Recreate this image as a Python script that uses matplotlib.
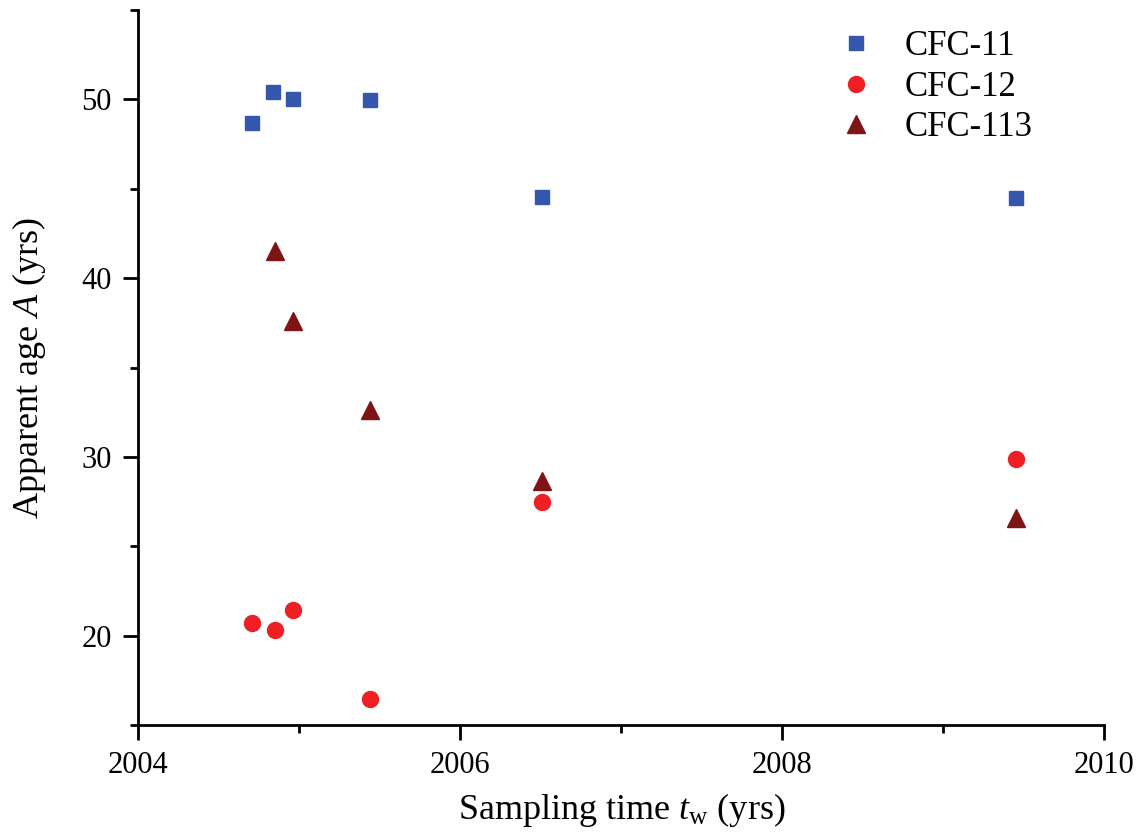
import matplotlib
matplotlib.use("Agg")
import matplotlib.pyplot as plt
from matplotlib.ticker import MultipleLocator

plt.rcParams["font.family"] = ["Liberation Serif", "DejaVu Serif"]
plt.rcParams["mathtext.fontset"] = "custom"
plt.rcParams["mathtext.rm"] = "Liberation Serif"
plt.rcParams["mathtext.it"] = "Liberation Serif:italic"

# Sampling times (years) and apparent ages (years) per tracer
t_cfc11 = [2004.71, 2004.84, 2004.96, 2005.44, 2006.51, 2009.45]
age_cfc11 = [48.7, 50.4, 50.0, 49.95, 44.55, 44.5]

t_cfc12 = [2004.71, 2004.85, 2004.96, 2005.44, 2006.51, 2009.45]
age_cfc12 = [20.7, 20.3, 21.45, 16.45, 27.5, 29.9]

t_cfc113 = [2004.85, 2004.96, 2005.44, 2006.51, 2009.45]
age_cfc113 = [41.5, 37.6, 32.6, 28.65, 26.6]

labels = ["CFC-11", "CFC-12", "CFC-113"]
colors = ["#3457ad", "#ee2024", "#7f1416"]

fig = plt.figure(figsize=(11.41, 8.40), dpi=100)
ax = fig.add_axes([0.121, 0.137, 0.847, 0.851])

ax.plot(t_cfc11, age_cfc11, ls="none", marker="s", ms=10, color=colors[0], label=labels[0])
ax.plot(t_cfc12, age_cfc12, ls="none", marker="o", ms=11.5, color=colors[1], label=labels[1])
ax.plot(t_cfc113, age_cfc113, ls="none", marker="^", ms=12.5, color=colors[2], label=labels[2])

ax.set_xlim(2004, 2010)
ax.set_ylim(15, 55)
ax.xaxis.set_major_locator(MultipleLocator(2))
ax.xaxis.set_minor_locator(MultipleLocator(1))
ax.yaxis.set_major_locator(MultipleLocator(10))
ax.yaxis.set_minor_locator(MultipleLocator(5))

for side in ("top", "right"):
    ax.spines[side].set_visible(False)
for side in ("left", "bottom"):
    ax.spines[side].set_linewidth(2.0)

ax.tick_params(which="major", direction="out", length=11, width=2.0, labelsize=22, pad=8)
ax.tick_params(which="minor", direction="out", length=6, width=2.0)

ax.set_xlabel(r"Sampling time $t_{\mathrm{w}}$ (yrs)", fontsize=26, labelpad=8)
ax.set_ylabel(r"Apparent age $A$ (yrs)", fontsize=26, labelpad=24)

ax.legend(loc="upper right", bbox_to_anchor=(0.951, 1.006), frameon=False, fontsize=25,
          handletextpad=0.4, labelspacing=0.22, borderaxespad=0.3)

fig.savefig("out.png", dpi=100)
